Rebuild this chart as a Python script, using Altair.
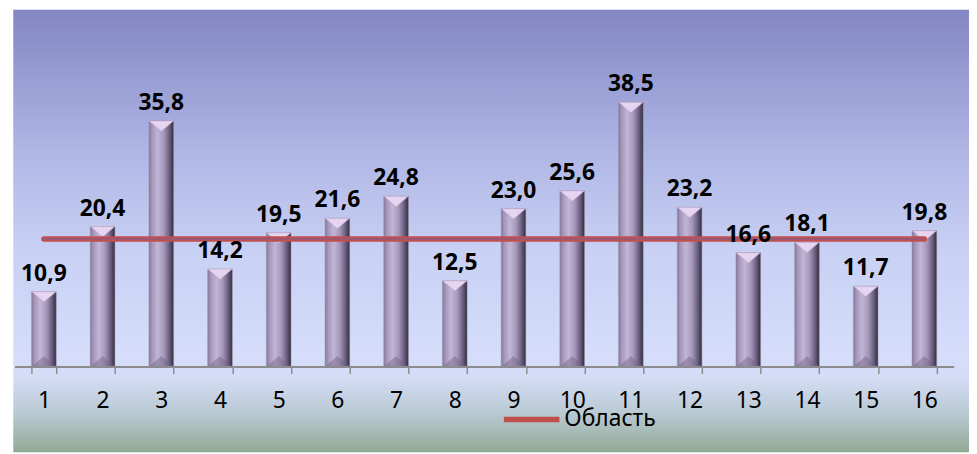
import altair as alt
import pandas as pd

# ---- data ----
categories = ["1", "2", "3", "4", "5", "6", "7", "8", "9", "10", "11", "12", "13", "14", "15", "16"]
values = [10.9, 20.4, 35.8, 14.2, 19.5, 21.6, 24.8, 12.5, 23.0, 25.6, 38.5, 23.2, 16.6, 18.1, 11.7, 19.8]
region_values = [18.6, 18.6, 18.6, 18.6, 18.6, 18.6, 18.6, 18.6, 18.6, 18.6, 18.6, 18.6, 18.6, 18.6, 18.6, 18.6]
series_name = "Область"

df = pd.DataFrame({
    "cat": categories,
    "value": values,
    "label": [f"{v:.1f}".replace(".", ",") for v in values],
    "region": region_values,
    "series": [series_name] * len(categories),
})

W, H = 947, 346
PAD = {"left": 6.6, "top": 13.7, "right": 15.4, "bottom": 86.3}
FONT = "Noto Sans"

xenc = alt.X(
    "cat:O",
    sort=categories,
    scale=alt.Scale(paddingInner=0.58, paddingOuter=0.29),
    axis=alt.Axis(
        title=None, labelAngle=0, labelFont=FONT, labelFontSize=23, labelColor="#000000",
        labelPadding=16, domainColor="#8C8C8C", domainWidth=2, tickColor="#8C8C8C",
        tickWidth=1.5, tickSize=7, tickBand="extent", grid=False, zindex=1,
    ),
)
yscale = alt.Scale(domain=[0, 50], nice=False, zero=True)

# background gradient panel
bg = alt.Chart(pd.DataFrame({"a": [0]})).mark_rect(
    fill=alt.LinearGradient(
        gradient="linear", x1=0, x2=0, y1=0, y2=1,
        stops=[
            alt.GradientStop(offset=0.0, color="#8386C3"),
            alt.GradientStop(offset=0.32, color="#AFB6E5"),
            alt.GradientStop(offset=0.55, color="#C9D1F4"),
            alt.GradientStop(offset=0.78, color="#D5DDFB"),
            alt.GradientStop(offset=0.83, color="#D4DCF6"),
            alt.GradientStop(offset=0.91, color="#BACAD4"),
            alt.GradientStop(offset=1.0, color="#91AA94"),
        ],
    )
).encode(
    x=alt.value(-1.3), x2=alt.value(W + PAD["right"]),
    y=alt.value(-PAD["top"]), y2=alt.value(H + PAD["bottom"]),
)

base = alt.Chart(df)

bars = base.mark_bar(
    fill=alt.LinearGradient(
        gradient="linear", x1=0, x2=1, y1=0, y2=0,
        stops=[
            alt.GradientStop(offset=0.0, color="#857799"),
            alt.GradientStop(offset=0.12, color="#A496B8"),
            alt.GradientStop(offset=0.35, color="#C3B5D7"),
            alt.GradientStop(offset=0.6, color="#A698BB"),
            alt.GradientStop(offset=0.82, color="#6C6080"),
            alt.GradientStop(offset=1.0, color="#332D3C"),
        ],
    ),
    stroke="#9C8FAE", strokeWidth=0.5,
).encode(x=xenc, y=alt.Y("value:Q", scale=yscale, axis=None))

bottom_bevel = base.mark_point(
    shape="M-1,0L1,0L0,-0.85Z", filled=True, fill="#6F6284", opacity=0.45, size=600, strokeWidth=0,
).encode(x=xenc, y=alt.Y("zero:Q", scale=yscale, axis=None)).transform_calculate(zero="0")

top_bevel = base.mark_point(
    shape="M-1,0L1,0L0,0.85Z", filled=True, fill="#E6D4F0", stroke="#B9A9CB",
    strokeWidth=0.6, opacity=1, size=600,
).encode(x=xenc, y=alt.Y("value:Q", scale=yscale, axis=None))

line = base.mark_line(strokeWidth=5.5, strokeCap="round").encode(
    x=xenc,
    y=alt.Y("region:Q", scale=yscale, axis=None),
    color=alt.Color(
        "series:N",
        scale=alt.Scale(range=["#C0504D"]),
        legend=alt.Legend(
            title=None, orient="none", legendX=490.4, legendY=368.3,
            symbolType="stroke", symbolSize=3136, symbolStrokeWidth=5.5,
            labelFont=FONT, labelFontSize=23, labelColor="#000000", labelOffset=2,
            padding=0,
        ),
    ),
)

inner_line = base.mark_line(strokeWidth=1.6, color="#8A5A8C", opacity=0.8).encode(
    x=xenc, y=alt.Y("region:Q", scale=yscale, axis=None)
)

labels = base.mark_text(
    font=FONT, fontSize=23, fontWeight="bold", color="#000000",
    baseline="alphabetic", dy=-11,
).encode(x=xenc, y=alt.Y("value:Q", scale=yscale, axis=None), text="label:N")

chart = alt.layer(bg, bars, bottom_bevel, top_bevel, line, inner_line, labels).properties(
    width=W, height=H,
    autosize=alt.AutoSizeParams(type="none"),
    padding=PAD,
).configure_view(stroke=None).configure(background="#FFFFFF")

chart.save("out.html", embed_options={"renderer": "svg", "actions": False})
